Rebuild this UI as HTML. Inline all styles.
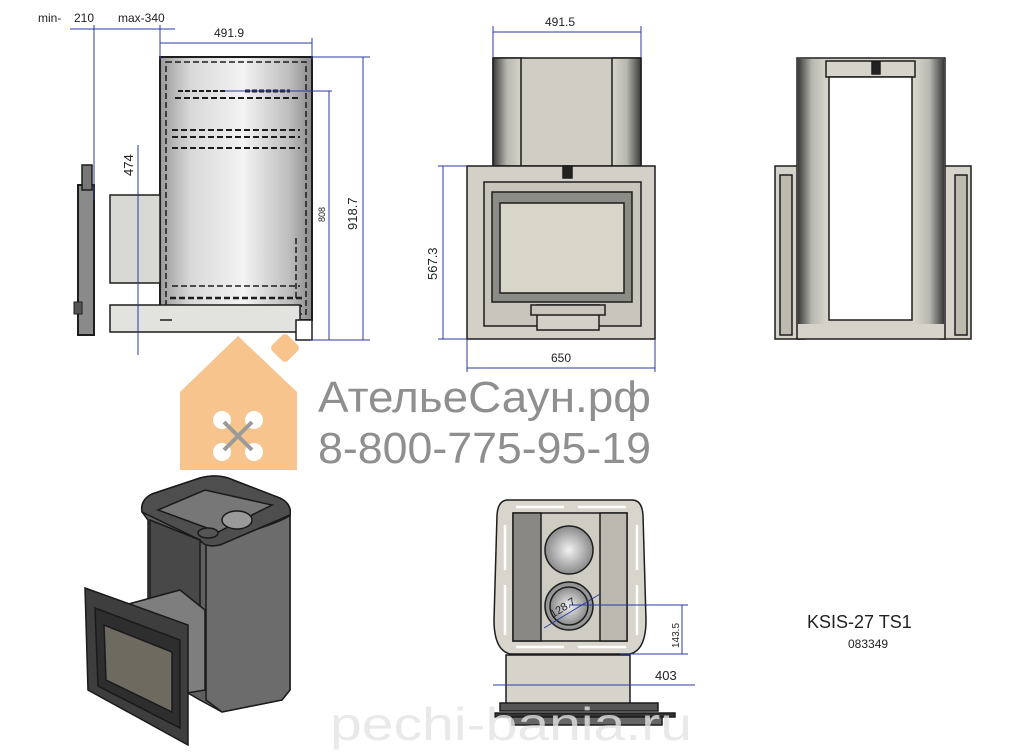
<!DOCTYPE html>
<html><head><meta charset="utf-8"><style>
html,body{margin:0;padding:0;background:#fff;}
svg{display:block;}
text{font-family:"Liberation Sans","DejaVu Sans",sans-serif;}
</style></head><body>
<svg width="1024" height="756" viewBox="0 0 1024 756" xmlns="http://www.w3.org/2000/svg">
<defs>
<linearGradient id="bodyg" x1="0" x2="1"><stop offset="0" stop-color="#9a9a9a"/><stop offset="0.2" stop-color="#d8d8d8"/><stop offset="0.55" stop-color="#f3f3f3"/><stop offset="0.85" stop-color="#bdbdbd"/><stop offset="1" stop-color="#8a8a8a"/></linearGradient>
<linearGradient id="tubeg" x1="0" x2="1"><stop offset="0" stop-color="#3a3a3a"/><stop offset="0.5" stop-color="#b8b8b0"/><stop offset="1" stop-color="#d6d4ca"/></linearGradient>
<linearGradient id="tubeg2" x1="1" x2="0"><stop offset="0" stop-color="#3a3a3a"/><stop offset="0.5" stop-color="#b8b8b0"/><stop offset="1" stop-color="#d6d4ca"/></linearGradient>
<radialGradient id="disc"><stop offset="0" stop-color="#f2f2f2"/><stop offset="1" stop-color="#8a8a8a"/></radialGradient>
</defs>

<!-- ===== Side view ===== -->
<g stroke="#1d1d1d" fill="none">
<rect x="160" y="57" width="152" height="263" fill="url(#bodyg)" stroke-width="2"/>
<rect x="166" y="62" width="140" height="252" stroke-dasharray="6 3" stroke-width="1.5"/>
<line x1="175" y1="98" x2="300" y2="98" stroke-dasharray="6 3" stroke-width="2"/>
<line x1="178" y1="91" x2="225" y2="91" stroke-dasharray="5 2" stroke-width="2"/>
<line x1="245" y1="91" x2="290" y2="91" stroke-dasharray="5 2" stroke-width="3"/>
<line x1="172" y1="130" x2="300" y2="130" stroke-dasharray="6 3" stroke-width="2"/>
<line x1="172" y1="137" x2="300" y2="137" stroke-dasharray="6 3" stroke-width="2"/>
<line x1="172" y1="148" x2="300" y2="148" stroke-dasharray="6 3" stroke-width="2"/>
<line x1="172" y1="286" x2="300" y2="286" stroke-dasharray="6 3" stroke-width="1.5"/>
<line x1="170" y1="298" x2="302" y2="298" stroke-dasharray="6 3" stroke-width="2.5"/>
<line x1="170" y1="306" x2="302" y2="306" stroke-dasharray="6 3" stroke-width="2"/>
<line x1="296" y1="238" x2="296" y2="300" stroke-dasharray="6 3" stroke-width="1.5"/>
<rect x="110" y="195" width="50" height="88" fill="#d9d9d4" stroke-width="1.5"/>
<rect x="110" y="305" width="190" height="27" fill="#e2e2de" stroke-width="1.5"/>
<line x1="160" y1="320" x2="172" y2="320" stroke-width="1.5"/>
<rect x="78" y="185" width="16" height="150" fill="#8a8a8a" stroke-width="2"/>
<rect x="82" y="165" width="10" height="25" fill="#777" stroke-width="1.5"/>
<rect x="74" y="302" width="8" height="12" fill="#555" stroke-width="1"/>
<rect x="296" y="320" width="16" height="20" fill="#fff" stroke-width="1.5"/>
</g>
<g stroke="#2b3aa0" stroke-width="1" fill="none">
<line x1="70" y1="29" x2="175" y2="29"/>
<line x1="94" y1="25" x2="94" y2="200"/>
<line x1="160" y1="25" x2="160" y2="60"/>
<line x1="160" y1="43" x2="312" y2="43"/>
<line x1="312" y1="38" x2="312" y2="60"/>
<line x1="312" y1="57" x2="370" y2="57"/>
<line x1="363" y1="57" x2="363" y2="340"/>
<line x1="310" y1="340" x2="370" y2="340"/>
<line x1="225" y1="91" x2="332" y2="91"/>
<line x1="329" y1="91" x2="329" y2="340"/>
<line x1="138" y1="145" x2="138" y2="355"/>
</g>
<g fill="#222" font-size="12">
<text x="38" y="22">min-</text><text x="74" y="22">210</text>
<text x="118" y="22">max-340</text>
<text x="214" y="37">491.9</text>
<text transform="translate(357,230) rotate(-90)" font-size="13">918.7</text>
<text transform="translate(325,222) rotate(-90)" font-size="9">808</text>
<text transform="translate(133,176) rotate(-90)" font-size="13">474</text>
</g>

<!-- ===== Front view ===== -->
<g stroke="#1d1d1d" stroke-width="1.5">
<rect x="493" y="58" width="148" height="108" fill="#cfcdc4"/>
<rect x="493" y="58" width="28" height="108" fill="url(#tubeg)"/>
<rect x="612" y="58" width="29" height="108" fill="url(#tubeg2)"/>
<rect x="467" y="166" width="188" height="173" fill="#d3d1c7"/>
<rect x="484" y="182" width="157" height="144" fill="#c8c6bc"/>
<rect x="492" y="192" width="140" height="110" fill="#8c8c86"/>
<rect x="500" y="203" width="124" height="90" fill="#d8d6c8"/>
<rect x="537" y="305" width="62" height="25" fill="#d3d1c7"/>
<rect x="531" y="305" width="74" height="10" fill="#c8c6bc"/>
<rect x="563" y="166" width="9" height="12" fill="#222"/>
</g>
<g stroke="#2b3aa0" stroke-width="1" fill="none">
<line x1="493" y1="32" x2="641" y2="32"/><line x1="493" y1="26" x2="493" y2="58"/><line x1="641" y1="26" x2="641" y2="58"/>
<line x1="443" y1="166" x2="443" y2="339"/><line x1="438" y1="166" x2="467" y2="166"/><line x1="438" y1="339" x2="467" y2="339"/>
<line x1="467" y1="368" x2="655" y2="368"/><line x1="467" y1="339" x2="467" y2="372"/><line x1="655" y1="339" x2="655" y2="372"/>
</g>
<g fill="#222" font-size="12">
<text x="545" y="26">491.5</text>
<text transform="translate(437,280) rotate(-90)" font-size="13">567.3</text>
<text x="551" y="362">650</text>
</g>

<!-- ===== Right view ===== -->
<g stroke="#1d1d1d" stroke-width="1.5">
<rect x="775" y="166" width="30" height="173" fill="#d6d4ca"/>
<rect x="940" y="166" width="31" height="173" fill="#d6d4ca"/>
<rect x="780" y="175" width="12" height="160" fill="#bdbbb0"/>
<rect x="955" y="175" width="12" height="160" fill="#bdbbb0"/>
<rect x="797" y="58" width="148" height="281" fill="#d6d4ca"/>
<rect x="798" y="59" width="28" height="265" fill="url(#tubeg)" stroke="none"/>
<rect x="915" y="59" width="29" height="265" fill="url(#tubeg2)" stroke="none"/>
<rect x="826" y="61" width="89" height="16" fill="#d6d4ca"/>
<rect x="829" y="77" width="83" height="243" fill="#fff"/>
<rect x="872" y="62" width="8" height="12" fill="#222"/>
</g>

<!-- ===== Logo ===== -->
<g fill="#f6c48c">
<path d="M180 392 L238 336 L297 392 L297 470 L180 470 Z"/>
<rect x="274" y="337" width="22" height="22" rx="4" transform="rotate(45 285 348)"/>
</g>
<g fill="#fff"><circle cx="222" cy="420" r="9"/><circle cx="254" cy="420" r="9"/><circle cx="222" cy="452" r="9"/><circle cx="254" cy="452" r="9"/></g>
<g stroke="#9a9a9a" stroke-width="4"><line x1="224" y1="422" x2="252" y2="450"/><line x1="252" y1="422" x2="224" y2="450"/></g>
<g fill="#8f8f8f" font-family="'DejaVu Sans','Liberation Sans',sans-serif">
<text x="318" y="412" font-size="44" textLength="333" lengthAdjust="spacingAndGlyphs">АтельеСаун.рф</text>
<text x="318" y="463" font-size="44" textLength="333" lengthAdjust="spacingAndGlyphs">8-800-775-95-19</text>
</g>

<!-- ===== Iso view ===== -->
<g stroke="#1a1a1a" stroke-width="1.5">
<path d="M142 512 Q140 500 152 494 L200 478 Q215 474 228 478 L280 498 Q292 504 290 515 L290 690 L282 700 L222 712 L200 700 L148 670 L148 520 Z" fill="#5f5f5f"/>
<path d="M206 545 Q285 522 290 515 L290 690 L282 700 L222 712 L206 700 Z" fill="#6c6c6c"/>
<path d="M142 512 Q140 500 152 494 L200 478 Q215 474 228 478 L280 498 Q292 504 290 515 L220 545 Q205 548 200 540 Z" fill="#4e4e4e"/>
<path d="M158 510 L205 490 L272 505 L218 532 Z" fill="#777"/>
<ellipse cx="237" cy="520" rx="15" ry="9" fill="#9a9a9a"/>
<ellipse cx="208" cy="533" rx="10" ry="5" fill="#555"/>
<path d="M150 520 L200 540 L200 640 L150 630 Z" fill="#484848"/>
<path d="M125 605 L180 590 L205 610 L205 690 L145 700 Z" fill="#7e7e7e"/>
<path d="M85 588 L188 625 L188 745 L88 690 Z" fill="#3e3e3e"/>
<path d="M95 608 L180 640 L180 728 L98 686 Z" fill="#2e2e2e"/>
<path d="M104 625 L172 652 L172 712 L106 680 Z" fill="#6e6a60"/>
</g>

<!-- ===== Top view ===== -->
<g stroke="#1d1d1d" stroke-width="1.5">
<rect x="506" y="655" width="124" height="50" fill="#d6d4ca"/>
<rect x="500" y="703" width="158" height="8" fill="#555"/>
<rect x="495" y="713" width="180" height="4" fill="#333"/>
<rect x="512" y="717" width="150" height="8" fill="#666"/>
<path d="M508 500 Q498 500 497 515 L494 620 Q494 650 510 654 L630 654 Q646 650 646 620 L643 515 Q642 500 632 500 Z" fill="#d8d6cc"/>
<rect x="513" y="513" width="114" height="128" fill="#cfcdc3"/>
<rect x="513" y="513" width="28" height="128" fill="#8a8884"/>
<rect x="600" y="513" width="27" height="128" fill="#bcbab0"/>
<circle cx="569" cy="550" r="24" fill="url(#disc)"/>
<circle cx="569" cy="606" r="24" fill="url(#disc)"/>
<circle cx="569" cy="606" r="19" fill="url(#disc)"/>
</g>
<g stroke="#fff" stroke-width="2.5" fill="none">
<line x1="516" y1="507" x2="564" y2="507"/><line x1="578" y1="507" x2="626" y2="507"/>
<line x1="516" y1="647" x2="564" y2="647"/><line x1="578" y1="647" x2="626" y2="647"/>
<line x1="505" y1="525" x2="505" y2="570"/><line x1="505" y1="585" x2="505" y2="635"/>
<line x1="637" y1="525" x2="637" y2="570"/><line x1="637" y1="585" x2="637" y2="635"/>
</g>
<g stroke="#2b3aa0" stroke-width="1" fill="none">
<line x1="544" y1="628" x2="600" y2="594"/>
<line x1="569" y1="605" x2="688" y2="605"/><line x1="620" y1="654" x2="688" y2="654"/>
<line x1="682" y1="605" x2="682" y2="654"/>
<line x1="493" y1="685" x2="695" y2="685"/>
</g>
<g fill="#222">
<text transform="translate(553,618) rotate(-32)" font-size="11">128.7</text>
<text transform="translate(679,648) rotate(-90)" font-size="10">143.5</text>
<text x="655" y="680" font-size="13">403</text>
<text x="807" y="628" font-size="18">KSIS-27 TS1</text>
<text x="848" y="648" font-size="12">083349</text>
</g>
<text x="330" y="740" font-size="46" fill="#e4e4e4" opacity="0.8" textLength="362" lengthAdjust="spacingAndGlyphs">pechi-bania.ru</text>
</svg>
</body></html>
